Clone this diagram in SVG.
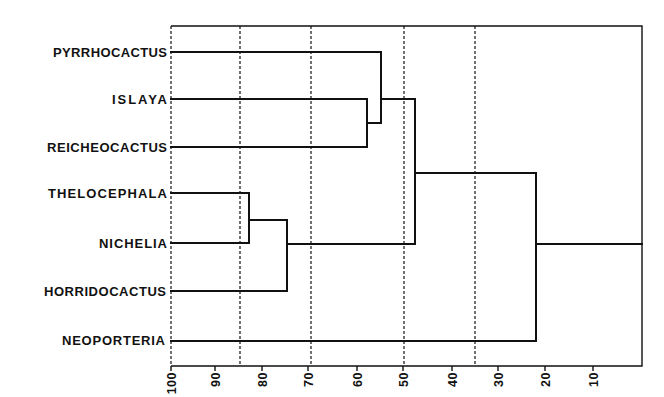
<svg xmlns="http://www.w3.org/2000/svg" width="664" height="397" viewBox="0 0 664 397">
<style>
.lbl{font-family:"Liberation Sans","DejaVu Sans",sans-serif;font-size:13px;font-weight:bold;fill:#111;text-anchor:end}
.tk{font-family:"Liberation Sans","DejaVu Sans",sans-serif;font-size:12.5px;font-weight:bold;fill:#111;text-anchor:end;letter-spacing:0.5px}
.tree{fill:none;stroke:#111;stroke-width:2;stroke-linejoin:miter;stroke-linecap:square}
.frame{fill:none;stroke:#111;stroke-width:1.4}
.dash{stroke:#111;stroke-width:1.2;stroke-dasharray:3 2;fill:none}
</style>
<rect width="664" height="397" fill="#fff"/>
<g id="frame">
<path class="frame" d="M171,26 L642,26 L642,366 L171,366"/>
<line class="dash" x1="171" y1="26" x2="171" y2="366"/>
<line class="dash" x1="240" y1="26" x2="240" y2="366"/>
<line class="dash" x1="311" y1="26" x2="311" y2="366"/>
<line class="dash" x1="404" y1="26" x2="404" y2="366"/>
<line class="dash" x1="475" y1="26" x2="475" y2="366"/>
</g>
<g id="axis">
<path class="frame" d="M171,366v5M215,366v5M262,366v5M308,366v5M357,366v5M403,366v5M452,366v5M498,366v5M545,366v5M593,366v5"/>
<text class="tk" transform="translate(171,372) rotate(-90)" y="4.5">100</text>
<text class="tk" transform="translate(215,372) rotate(-90)" y="4.5">90</text>
<text class="tk" transform="translate(262,372) rotate(-90)" y="4.5">80</text>
<text class="tk" transform="translate(308,372) rotate(-90)" y="4.5">70</text>
<text class="tk" transform="translate(357,372) rotate(-90)" y="4.5">60</text>
<text class="tk" transform="translate(403,372) rotate(-90)" y="4.5">50</text>
<text class="tk" transform="translate(452,372) rotate(-90)" y="4.5">40</text>
<text class="tk" transform="translate(498,372) rotate(-90)" y="4.5">30</text>
<text class="tk" transform="translate(545,372) rotate(-90)" y="4.5">20</text>
<text class="tk" transform="translate(593,372) rotate(-90)" y="4.5">10</text>
</g>
<g id="n-pyrrhocactus"><text class="lbl" x="167" y="57" textLength="114" lengthAdjust="spacing">PYRRHOCACTUS</text></g>
<g id="n-islaya"><text class="lbl" x="167" y="104" textLength="55" lengthAdjust="spacing">ISLAYA</text></g>
<g id="n-reicheocactus"><text class="lbl" x="167" y="152" textLength="120" lengthAdjust="spacing">REICHEOCACTUS</text></g>
<g id="n-thelocephala"><text class="lbl" x="167" y="198" textLength="119" lengthAdjust="spacing">THELOCEPHALA</text></g>
<g id="n-nichelia"><text class="lbl" x="167" y="248" textLength="68" lengthAdjust="spacing">NICHELIA</text></g>
<g id="n-horridocactus"><text class="lbl" x="166" y="296" textLength="122" lengthAdjust="spacing">HORRIDOCACTUS</text></g>
<g id="n-neoporteria"><text class="lbl" x="165" y="345" textLength="103" lengthAdjust="spacing">NEOPORTERIA</text></g>
<g id="connectors">
<path class="tree" d="M171,99 H367 V147 H171"/>
<path class="tree" d="M171,52 H381 V123 H367"/>
<path class="tree" d="M381,99 H415 V244"/>
<path class="tree" d="M171,193 H249 V243 H171"/>
<path class="tree" d="M249,220 H287 V291 H171"/>
<path class="tree" d="M287,244 H415"/>
<path class="tree" d="M415,173 H536 V341 H171"/>
<path class="tree" d="M536,244 H642"/>
</g>
</svg>
